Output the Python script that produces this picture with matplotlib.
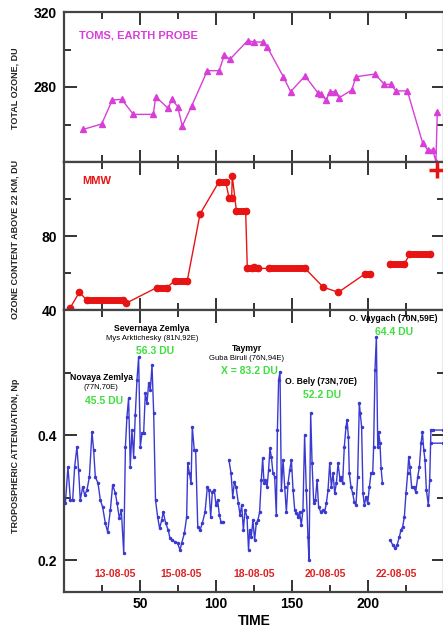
import numpy as np
import matplotlib
matplotlib.use('Agg')
import matplotlib.pyplot as plt
from matplotlib.ticker import MultipleLocator

plt.rcParams['font.family'] = ['Liberation Sans', 'DejaVu Sans']

# TOMS, Earth Probe total ozone (DU)
toms_t = [12.7, 24.8, 31.8, 38.0, 45.6, 58.8, 60.3, 68.6, 70.8, 74.8, 77.8, 84.0, 94.3, 102.0,
          105.5, 109.2, 120.8, 125.0, 131.1, 133.8, 144.3, 149.1, 158.6, 167.3, 168.9, 172.4,
          175.0, 178.3, 181.1, 189.3, 192.1, 204.6, 210.7, 214.9, 218.4, 225.9, 236.0, 239.3,
          242.6, 244.7, 245.6]
toms_v = [257.4, 260.3, 273.1, 273.4, 265.4, 265.4, 274.8, 268.6, 273.6, 269.5, 259.2, 269.9,
          288.7, 288.7, 296.9, 294.8, 304.7, 304.0, 304.0, 301.2, 285.5, 277.5, 285.9, 276.6,
          276.3, 273.1, 277.5, 277.5, 274.3, 278.4, 285.5, 286.9, 281.4, 281.4, 277.9, 277.9,
          250.0, 246.4, 246.4, 240.2, 266.8]

# MMW ozone content above 22 km (DU)
mmw_t = [3.9, 10.1, 14.9, 39.0, 40.7, 61.0, 67.5, 73.0, 81.1, 89.5, 102.0, 106.4, 108.6, 110.3,
         110.7, 113.4, 119.5, 120.6, 124.0, 125.0, 127.8, 135.0, 158.6, 170.6, 180.5, 198.0,
         201.3, np.nan, 214.5, 223.9, 227.2, 240.8]
mmw_v = [40.9, 49.6, 45.4, 45.4, 43.6, 52.1, 52.1, 55.8, 55.8, 91.9, 109.4, 109.4, 100.4, 100.4,
         112.4, 93.7, 93.7, 62.5, 62.5, 63.5, 62.5, 62.5, 62.5, 52.3, 49.6, 59.5, 59.5, np.nan,
         64.7, 64.7, 70.1, 70.1]
# densely sampled runs (start, end, value)
mmw_runs = [(14.9, 39.0, 45.4), (61.0, 67.5, 52.1), (73.0, 81.1, 55.8), (102.0, 106.4, 109.4),
            (108.6, 110.3, 100.4), (113.4, 119.5, 93.7), (120.6, 127.8, 62.5), (135.0, 158.6, 62.5),
            (198.0, 201.3, 59.5), (214.5, 223.9, 64.7), (227.2, 240.8, 70.1)]
mmw_last = (245.2, 115.5)

# tropospheric attenuation (Np)
att_t = [0.9, 2.6, 4.2, 5.7, 7.0, 8.5, 9.6, 10.7, 12.3, 13.6, 15.1, 16.7, 18.4, 19.5, 20.6, 22.4,
         23.9, 25.4, 27.2, 28.7, 30.5, 32.0, 33.8, 34.9, 36.4, 37.7, 39.3, 40.4, 41.4, 42.5, 43.6,
         44.7, 45.8, 46.9, 48.0, 49.1, 50.2, 51.3, 52.4, 53.5, 54.6, 55.7, 56.8, 57.9, 59.0, 60.2,
         61.6, 62.9, 64.3, 65.3, 66.9, 68.6, 69.7, 71.3, 73.0, 74.8, 76.3, 77.4, 79.2, 80.7, 81.4,
         82.5, 83.6, 84.4, 85.7, 86.6, 88.0, 89.5, 91.0, 92.8, 94.3, 95.4, 96.5, 97.6, 98.9, 100.0,
         101.1, 102.2, 103.3, 104.8, np.nan,
         108.5, 109.9, 111.0, 112.1, 113.2, 114.7, 115.8, 116.9, 118.0, 119.1, 120.4, 121.4,
         122.1, 123.2, 124.3, 125.4, 126.5, 127.6, 128.7, 129.8, 130.7, 131.6, 132.5, 133.6, 134.6,
         135.5, 136.4, 137.5, 138.6, 139.7, 140.4, 141.2, 142.1, 143.0, 144.1, 145.2, 146.3, 147.4,
         148.5, 149.6, 150.7, 151.8, 152.9, 154.0, 155.0, 156.1, 157.2, 158.3, 159.4, 160.5, 161.2,
         162.3, 163.2, 164.3, 165.4, 166.5, 167.5, 168.9, 170.4, 171.5, 172.6, 173.7, 174.8, 175.9,
         177.0, 178.1, 179.2, 180.3, 181.6,
         182.2, 183.3, 184.4, 185.5, 186.2, 187.1, 187.7, 188.8, 189.9, 191.0, 192.1, 193.2, 194.3,
         194.9, 195.8, 196.7, 197.6, 198.7, 199.8, 200.9, 202.0, 203.1, 203.7, 204.6, 205.5, 206.4,
         207.0, 207.9, 208.6, 209.5, np.nan,
         214.7, 216.3, 217.8, 219.1, 220.6, 221.7, 222.8, 223.9, 225.0, 226.1, 226.8, 227.6, 228.7,
         230.0, 231.4, 232.7, 233.8, 234.9, 235.8, 236.7, 237.5, 238.4, 239.7, 240.6, 241.4, 242.5,
         249.5, np.nan, 241.6, 249.5]
att_v = [0.291, 0.349, 0.296, 0.296, 0.349, 0.381, 0.344, 0.296, 0.317, 0.304, 0.312, 0.333,
         0.405, 0.376, 0.333, 0.323, 0.296, 0.285, 0.259, 0.245, 0.280, 0.320, 0.307, 0.291,
         0.267, 0.280, 0.211, 0.381, 0.429, 0.459, 0.349, 0.408, 0.365, 0.432, 0.488, 0.525,
         0.381, 0.403, 0.403, 0.467, 0.451, 0.483, 0.472, 0.512, 0.435, 0.296,
         0.269, 0.251, 0.264, 0.277, 0.259, 0.248, 0.235, 0.232, 0.229, 0.227, 0.216, 0.227,
         0.243, 0.269, 0.355, 0.339, 0.323, 0.413, 0.376, 0.376, 0.253, 0.248, 0.259, 0.277,
         0.317, 0.312, 0.269, 0.309, 0.312, 0.288, 0.296, 0.272, 0.261, 0.261, np.nan,
         0.360, 0.339, 0.301, 0.325, 0.317, 0.291, 0.272, 0.288, 0.248, 0.280, 0.269, 0.216,
         0.248, 0.237, 0.264, 0.232, 0.259, 0.264, 0.277, 0.328, 0.363, 0.323, 0.328, 0.317,
         0.344, 0.379, 0.365, 0.339, 0.333, 0.272, 0.408, 0.488, 0.501, 0.312, 0.360, 0.317,
         0.277, 0.323, 0.344, 0.360, 0.312, 0.280, 0.275, 0.269, 0.277, 0.256, 0.280, 0.400,
         0.312, 0.237, 0.200, 0.435, 0.355, 0.291, 0.296, 0.328, 0.285, 0.277, 0.280, 0.277,
         0.291, 0.312, 0.355, 0.317, 0.339, 0.307, 0.323, 0.355, 0.328,
         0.333, 0.323, 0.381, 0.413, 0.424, 0.397, 0.339, 0.317, 0.307, 0.293, 0.288, 0.333,
         0.451, 0.435, 0.413, 0.307, 0.288, 0.301, 0.291, 0.317, 0.339, 0.339, 0.381, 0.504,
         0.557, 0.381, 0.405, 0.387, 0.347, 0.323, np.nan,
         0.232, 0.224, 0.219, 0.224, 0.237, 0.248, 0.253, 0.269, 0.307, 0.339, 0.365, 0.349,
         0.317, 0.317, 0.309, 0.333, 0.349, 0.387, 0.405, 0.376, 0.360, 0.312, 0.288, 0.328,
         0.408, 0.408, 0.408, np.nan, 0.387, 0.387]

date_labels = ['13-08-05', '15-08-05', '18-08-05', '20-08-05', '22-08-05']
date_pos = [33.6, 77.0, 125.0, 171.7, 218.4]

sites = [('Novaya Zemlya', '(77N,70E)', '45.5 DU', 24.5, 0.492),
         ('Severnaya Zemlya', 'Mys Arktichesky (81N,92E)', '56.3 DU', 57.9, 0.571),
         ('Taymyr', 'Guba Biruli (76N,94E)', 'X = 83.2 DU', 120.2, 0.539),
         ('O. Bely (73N,70E)', None, '52.2 DU', 169.0, 0.485),
         ('O. Vaygach (70N,59E)', None, '64.4 DU', 216.4, 0.586)]

W, H = 443, 634
fig = plt.figure(figsize=(W / 100, H / 100), dpi=100)
left = 64 / W
width = 380 / W
ax1 = fig.add_axes([left, 1 - 162 / H, width, 150 / H])
ax2 = fig.add_axes([left, 1 - 310 / H, width, 148 / H], sharex=ax1)
ax3 = fig.add_axes([left, 1 - 592 / H, width, 282 / H], sharex=ax1)

magenta = '#d83ed8'
red = '#e81414'
blue = '#3a3ad0'
green = '#3ce03c'

ax1.plot(toms_t, toms_v, color=magenta, lw=1, marker='^', ms=4, clip_on=False, zorder=3)
ax1.set_ylim(240, 320)
ax1.yaxis.set_major_locator(MultipleLocator(40))
ax1.yaxis.set_minor_locator(MultipleLocator(20))
ax1.text(9.9, 307.2, 'TOMS, EARTH PROBE', color=magenta, fontsize=8, fontweight='bold',
         va='center', ha='left')

ax2.plot(mmw_t, mmw_v, color=red, lw=1, marker='o', ms=4.5)
for t0, t1, v in mmw_runs:
    ax2.plot([t0, t1], [v, v], color=red, lw=5, solid_capstyle='round')
ax2.plot(*mmw_last, marker='+', color=red, ms=12, mew=2.5, clip_on=False, zorder=5)
ax2.set_ylim(40, 120)
ax2.yaxis.set_major_locator(MultipleLocator(40))
ax2.yaxis.set_minor_locator(MultipleLocator(20))
ax2.text(11.8, 109.7, 'MMW', color=red, fontsize=8, fontweight='bold', va='center', ha='left')

ax3.plot(att_t, att_v, color=blue, lw=1, marker='.', ms=3)
ax3.set_ylim(0.149, 0.6)
ax3.yaxis.set_major_locator(MultipleLocator(0.2))
ax3.yaxis.set_minor_locator(MultipleLocator(0.1))
ax3.set_yticks([0.2, 0.4])

for name, sub, du, t, v in sites:
    ax3.text(t, v, name, fontsize=6.2, fontweight='bold', ha='center', va='center')
    if sub is not None:
        ax3.text(t, v - 0.016, sub, fontsize=5.5, ha='center', va='center')
        ax3.text(t + 2, v - 0.037, du, fontsize=7.5, fontweight='bold', color=green,
                 ha='center', va='center')
    else:
        ax3.text(t + 1, v - 0.021, du, fontsize=7.5, fontweight='bold', color=green,
                 ha='center', va='center')

for lab, t in zip(date_labels, date_pos):
    ax3.text(t, 0.177, lab, fontsize=7.5, fontweight='bold', color='#e02020',
             ha='center', va='center')

ax3.set_xlim(0, 250)
ax3.xaxis.set_major_locator(MultipleLocator(50))
ax3.xaxis.set_minor_locator(MultipleLocator(25))
ax3.set_xticks([50, 100, 150, 200])
ax3.set_xlabel('TIME', fontsize=10, fontweight='bold', labelpad=2)

for ax in (ax1, ax2, ax3):
    ax.tick_params(which='both', direction='in', top=True, right=True, width=1.4,
                   color='#333333', labelsize=10)
    ax.tick_params(which='major', length=9)
    ax.tick_params(which='minor', length=5)
    ax.tick_params(axis='y', pad=5)
    for s in ax.spines.values():
        s.set_color('#444444')
        s.set_linewidth(1.6)
    for lbl in ax.get_yticklabels() + ax.get_xticklabels():
        lbl.set_fontweight('bold')
    ax.minorticks_on()

ax1.tick_params(axis='x', labelbottom=False)
ax2.tick_params(axis='x', labelbottom=False)
ax1.set_yticks([280, 320])
ax2.set_yticks([40, 80])
ax1.set_yticks([260, 300], minor=True)
ax2.set_yticks([60, 100], minor=True)
ax3.set_yticks([0.3, 0.5], minor=True)
ax3.set_xticks([25, 75, 125, 175, 225], minor=True)
for ax in (ax1, ax2, ax3):
    for lbl in ax.get_yticklabels() + ax.get_xticklabels():
        lbl.set_fontweight('bold')

fig.text(15 / W, 1 - 88 / H, 'TOTAL OZONE, DU', rotation=90, fontsize=6.5, fontweight='bold',
         ha='center', va='center', color='#222222')
fig.text(15 / W, 1 - 239 / H, 'OZONE CONTENT ABOVE 22 KM, DU', rotation=90, fontsize=6.5,
         fontweight='bold', ha='center', va='center', color='#222222')
fig.text(16 / W, 1 - 456 / H, 'TROPOSPHERIC ATTENUATION, Np', rotation=90, fontsize=6.5,
         fontweight='bold', ha='center', va='center', color='#222222')

fig.savefig('out.png', dpi=100)
